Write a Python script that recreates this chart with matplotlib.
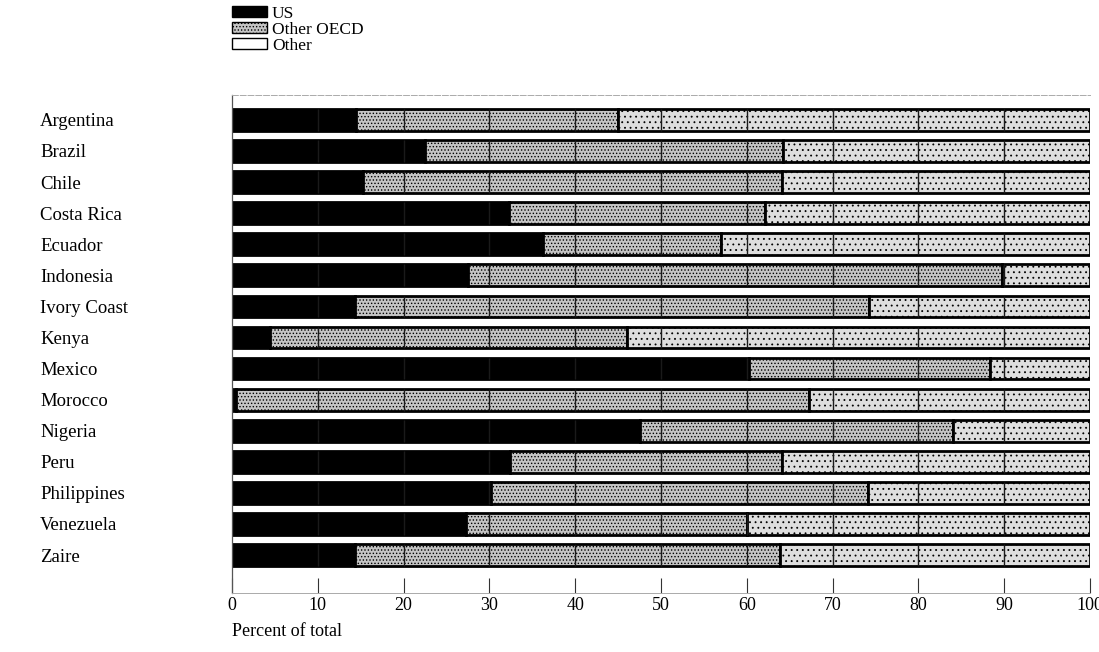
import matplotlib
matplotlib.use("Agg")
import matplotlib.pyplot as plt
from matplotlib.patches import Patch
import numpy as np

countries = ["Argentina", "Brazil", "Chile", "Costa Rica", "Ecuador", "Indonesia",
             "Ivory Coast", "Kenya", "Mexico", "Morocco", "Nigeria", "Peru",
             "Philippines", "Venezuela", "Zaire"]
us = [14.5, 22.5, 15.3, 32.3, 36.2, 27.5, 14.3, 4.4, 60.3, 0.5, 47.5, 32.4, 30.2, 27.3, 14.3]
other_oecd = [30.5, 41.7, 48.8, 29.8, 20.8, 62.3, 59.9, 41.6, 28.0, 66.7, 36.5, 31.7, 43.9, 32.7, 49.6]
other = [100 - a - b for a, b in zip(us, other_oecd)]
xticks = [0, 10, 20, 30, 40, 50, 60, 70, 80, 90, 100]

plt.rcParams['font.family'] = ['Liberation Serif', 'DejaVu Serif']
plt.rcParams['hatch.linewidth'] = 0.6

W, H = 1099, 652
fig = plt.figure(figsize=(W / 100, H / 100), dpi=100)
ax = fig.add_axes([232 / W, 1 - 593 / H, (1090 - 232) / W, (593 - 95) / H])

pos = np.arange(len(countries))
bh = 0.7
ax.barh(pos, us, height=bh, color='black', edgecolor='black', linewidth=2.0, zorder=2)
ax.barh(pos, other_oecd, left=us, height=bh, color='#c4c4c4', edgecolor='black',
        hatch='.....', linewidth=2.0, zorder=2)
left2 = [a + b for a, b in zip(us, other_oecd)]
ax.barh(pos, other, left=left2, height=bh, color='#dedede', edgecolor='black',
        hatch='...', linewidth=2.0, zorder=2)

# thin grid lines drawn across each bar
for p in pos:
    ax.vlines(xticks[1:-1], p - bh / 2, p + bh / 2, colors='#1a1a1a', linewidth=1.0, zorder=3)

ax.set_xlim(0, 100)
ax.set_ylim(len(countries) - 1 + 1.22, -0.80)
ax.set_xticks(xticks)
ax.set_xticklabels([str(t) for t in xticks], fontsize=13)
ax.tick_params(axis='x', direction='in', length=11, width=0.8, color='#333333', pad=3)
ax.set_yticks(pos)
ax.set_yticklabels(countries, fontsize=13.5)
ax.tick_params(axis='y', length=0, pad=(232 - 40) * 0.72)
for lab in ax.get_yticklabels():
    lab.set_horizontalalignment('left')

ax.spines['right'].set_visible(False)
ax.spines['top'].set_color('#aaaaaa')
ax.spines['top'].set_linewidth(0.7)
ax.spines['top'].set_linestyle((0, (6, 2)))
ax.spines['bottom'].set_color('#aaaaaa')
ax.spines['bottom'].set_linewidth(0.7)
ax.spines['left'].set_color('#555555')
ax.spines['left'].set_linewidth(0.9)

fig.text(232 / W, 1 - 632 / H, "Percent of total", fontsize=13, ha='left', va='center')

handles = [Patch(facecolor='black', edgecolor='black', label='US'),
           Patch(facecolor='#c4c4c4', edgecolor='black', hatch='.....', label='Other OECD'),
           Patch(facecolor='white', edgecolor='black', label='Other')]
fig.legend(handles=handles, loc='upper left', bbox_to_anchor=(232 / W, 1 - 6 / H),
           frameon=False, fontsize=12.5, handlelength=2.0, handleheight=0.6,
           labelspacing=0.0, handletextpad=0.3, borderpad=0, borderaxespad=0)

fig.savefig("out.png", dpi=100)
